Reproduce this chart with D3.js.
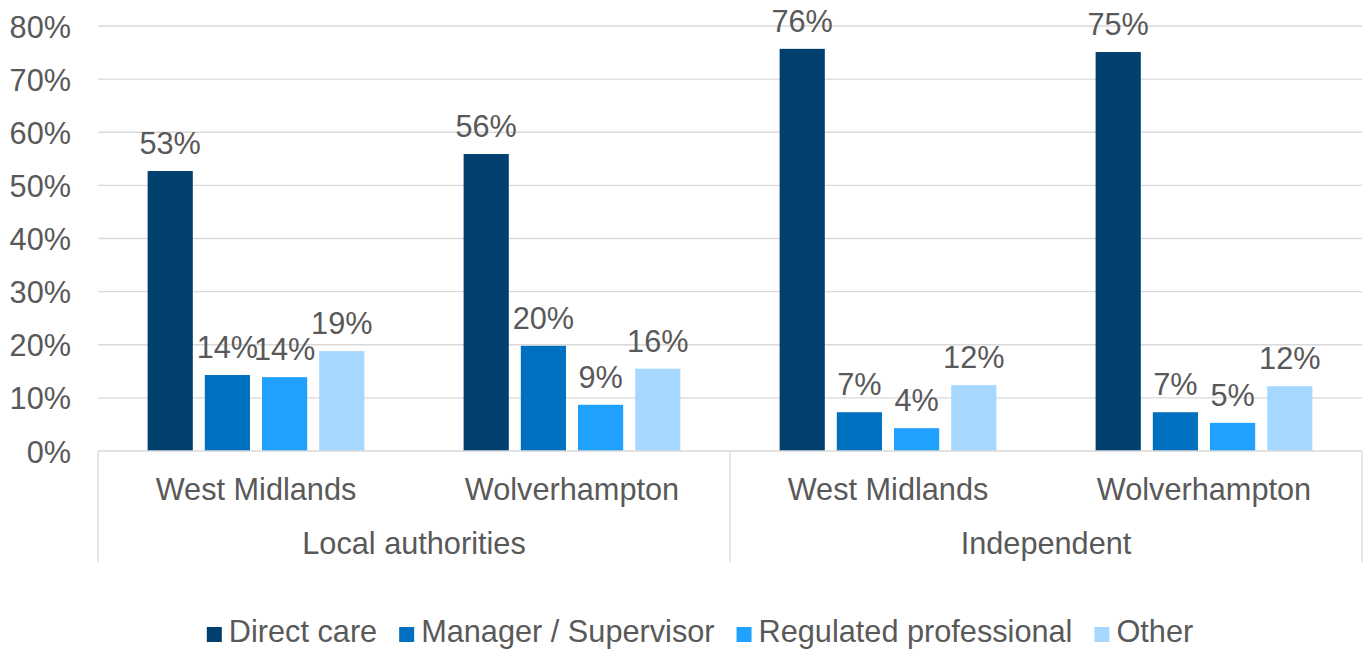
<!DOCTYPE html>
<html><head><meta charset="utf-8">
<script src="https://cdn.jsdelivr.net/npm/d3@7"></script>
<style>body{margin:0;background:#fff}svg{display:block}text{font-family:"Liberation Sans",Arial,sans-serif;fill:#595959}</style>
</head><body><svg id="c" width="1366" height="652"></svg>
<script>
const outerGroups = ["Local authorities", "Independent"];
const areas = ["West Midlands", "Wolverhampton"];
const series = ["Direct care", "Manager / Supervisor", "Regulated professional", "Other"];
const colors = ["#003F6E", "#0070C0", "#20A0FF", "#A6D8FF"];
const directCare = [52.7, 55.9, 75.7, 75.1];
const manager = [14.3, 19.8, 7.3, 7.3];
const regulated = [13.9, 8.7, 4.3, 5.3];
const other = [18.8, 15.5, 12.4, 12.2];
const yTicks = [0, 10, 20, 30, 40, 50, 60, 70, 80];

const FS = 30.7;
const seriesValues = [directCare, manager, regulated, other];
const cats = [];
outerGroups.forEach(g => areas.forEach(a => cats.push({g, a, key: g + "|" + a})));

const svg = d3.select("#c");
const L = 98, R = 1362, T = 26, B = 451;
const y = d3.scaleLinear().domain([0, 80]).range([B, T]);
const x = d3.scaleBand().domain(cats.map(c => c.key)).range([L, R]);
const bw = x.bandwidth();
const xs = d3.scaleBand().domain(series).range([bw * 0.157, bw * 0.843]).paddingInner(0.21);

// gridlines
svg.append("g").selectAll("line").data(yTicks.slice(1)).join("line")
  .attr("x1", L).attr("x2", R).attr("y1", d => y(d)).attr("y2", d => y(d))
  .attr("stroke", "#d9d9d9").attr("stroke-width", 1.3);

// y axis labels
const yAxis = d3.axisLeft(y).tickValues(yTicks).tickFormat(d => d + "%").tickSize(0).tickPadding(27);
const ya = svg.append("g").attr("transform", `translate(${L},0)`).call(yAxis);
ya.select(".domain").remove();
ya.selectAll("text").attr("font-size", FS).attr("fill", "#595959").attr("dy", "0.36em");

// bars
const bars = [];
cats.forEach((c, i) => series.forEach((s, j) => bars.push({c, s, j, v: seriesValues[j][i]})));
const bg = svg.append("g");
bg.selectAll("rect").data(bars).join("rect")
  .attr("x", d => x(d.c.key) + xs(d.s)).attr("width", xs.bandwidth())
  .attr("y", d => y(d.v)).attr("height", d => y(0) - y(d.v))
  .attr("fill", d => colors[d.j]);
bg.selectAll("text").data(bars).join("text")
  .attr("x", d => x(d.c.key) + xs(d.s) + xs.bandwidth() / 2)
  .attr("y", d => y(d.v) - 17)
  .attr("text-anchor", "middle").attr("font-size", FS)
  .text(d => Math.round(d.v) + "%");

// x axis line
svg.append("line").attr("x1", L).attr("x2", R).attr("y1", B).attr("y2", B).attr("stroke", "#d9d9d9").attr("stroke-width", 1.3);
// separators
const outer = d3.scaleBand().domain(outerGroups).range([L, R]);
const seps = [L, ...outerGroups.map(g => outer(g) + outer.bandwidth())];
svg.append("g").selectAll("line").data(seps).join("line")
  .attr("x1", d => d).attr("x2", d => d).attr("y1", B).attr("y2", 562)
  .attr("stroke", "#d9d9d9").attr("stroke-width", 1.3);

// area labels
svg.append("g").selectAll("text").data(cats).join("text")
  .attr("x", d => x(d.key) + bw / 2).attr("y", 500)
  .attr("text-anchor", "middle").attr("font-size", FS).text(d => d.a);
// outer labels
svg.append("g").selectAll("text").data(outerGroups).join("text")
  .attr("x", d => outer(d) + outer.bandwidth() / 2).attr("y", 554)
  .attr("text-anchor", "middle").attr("font-size", FS).text(d => d);

// legend
const lg = svg.append("g");
let cx = 0;
series.forEach((s, i) => {
  lg.append("rect").attr("x", cx).attr("y", 627).attr("width", 15).attr("height", 15).attr("fill", colors[i]);
  const t = lg.append("text").attr("x", cx + 22).attr("y", 642).attr("font-size", FS).text(s);
  cx += 22 + t.node().getComputedTextLength() + 22;
});
const total = cx - 22;
lg.attr("transform", `translate(${700 - total / 2},0)`);
</script></body></html>
